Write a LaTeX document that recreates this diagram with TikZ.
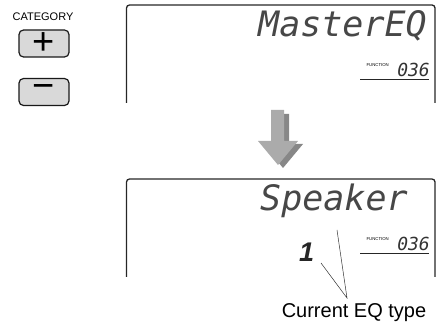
\documentclass[tikz,border=0pt]{standalone}
\usepackage{fontspec}
\setmainfont{Liberation Sans}
\newfontfamily\lcdfont{DejaVu Sans Mono}
\usetikzlibrary{positioning}

\begin{document}
\begin{tikzpicture}[
  x=1pt, y=-1pt,
  lcdframe/.style={draw=black!85, line width=1.3pt, rounded corners=3pt},
  keybox/.style={draw=black!90, line width=1.2pt, fill=black!15, rounded corners=4.5pt,
                 minimum width=50pt, minimum height=27pt, inner sep=0pt},
  lcdbig/.style={inner sep=0pt, text=black!72, font=\lcdfont\itshape\fontsize{35}{35}\selectfont},
  lcdnum/.style={inner sep=0pt, text=black!80, font=\lcdfont\itshape\fontsize{18}{18}\selectfont},
  fnlabel/.style={inner sep=0pt, font=\fontsize{4.3}{4.3}\selectfont},
  callout/.style={draw=black!80, line width=0.5pt},
]
  \useasboundingbox (0,0) rectangle (437,323);
  % category keys
  \node[anchor=base, inner sep=0pt, font=\fontsize{11}{11}\selectfont] (cat) at (43,21) {CATEGORY};
  \node[keybox] (plus) at (44,43.5) {};
  \node[keybox] (minus) at (44,92) {};
  \node[inner sep=0pt, font=\fontsize{38}{38}\selectfont] at (plus.center) {+};
  \node[inner sep=0pt, font=\fontsize{38}{38}\selectfont] at (minus.center) {−};
  % upper display
  \draw[lcdframe] (126.5,103) |- (435,5) -- (435,103);
  \node[lcdbig, anchor=base west] (name1) at (258,37) {MasterEQ};
  \node[lcdnum, anchor=base east] (num1) at (430,77) {036};
  \node[fnlabel, anchor=base east] (fn1) at (389,67) {FUNCTION};
  \draw[black!85, line width=0.9pt] (360,79) -- (428.5,79);
  % gray block arrow
  \fill[black!47] (276,114) -- (289,114) -- (289,144) -- (303,144) -- (283,168)
        -- (263,144) -- (276,144) -- cycle;
  \fill[black!33] (271,110) -- (284,110) -- (284,141) -- (298,141) -- (278,165)
        -- (258,141) -- (271,141) -- cycle;
  % lower display
  \draw[lcdframe] (126.5,277) |- (435,179) -- (435,277);
  \node[lcdbig, anchor=base west] (name2) at (260,211) {Speaker};
  \node[inner sep=0pt, anchor=base west, text=black!85, font=\bfseries\itshape\fontsize{27}{27}\selectfont]
    (type) at (299,262) {1};
  \node[lcdnum, anchor=base east] (num2) at (430,251) {036};
  \node[fnlabel, anchor=base east] (fn2) at (389,241) {FUNCTION};
  \draw[black!85, line width=0.9pt] (360,253) -- (428.5,253);
  % callout
  \node[anchor=base, inner sep=0pt, font=\fontsize{20}{20}\selectfont] (cur) at (354,318) {Current EQ type};
  \coordinate (meet) at (347,298);
  \coordinate (toname) at (337,230);
  \coordinate (totype) at (321,263);
  \draw[callout] (totype) -- (meet) -- (toname);
\end{tikzpicture}
\end{document}
